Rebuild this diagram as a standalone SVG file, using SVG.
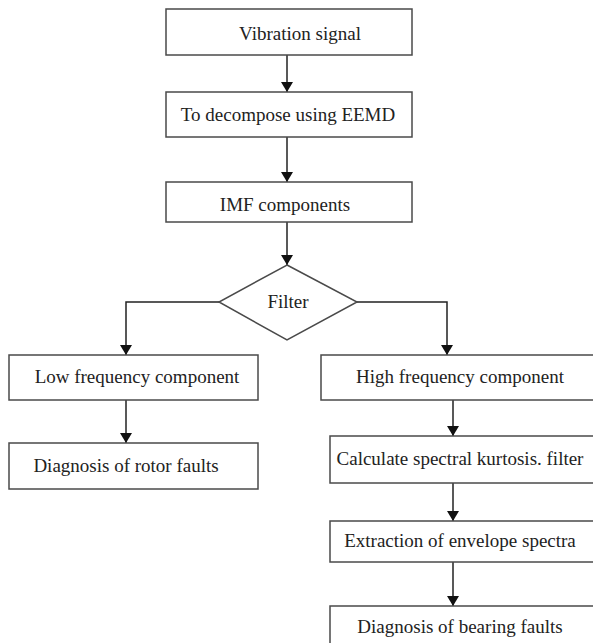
<svg xmlns="http://www.w3.org/2000/svg" width="593" height="643" viewBox="0 0 593 643">
<style>
.box{fill:#fff;stroke:#4a4a4a;stroke-width:1.5}
.lbl{font-family:"Liberation Serif","Times New Roman",serif;font-size:19px;fill:#222;text-anchor:middle}
.edge{fill:none;stroke:#222;stroke-width:1.5;marker-end:url(#arr)}
</style>
<defs>
<marker id="arr" markerWidth="10" markerHeight="12" refX="10" refY="6" orient="auto" markerUnits="userSpaceOnUse">
<path d="M0,0 L10,6 L0,12 Z" fill="#111"/>
</marker>
</defs>
<rect width="593" height="643" fill="#fff"/>
<g id="connectors">
<path class="edge" d="M287,55 V92"/>
<path class="edge" d="M287,137 V182"/>
<path class="edge" d="M287,222 V265"/>
<path class="edge" d="M219,302 H126 V355"/>
<path class="edge" d="M357,302 H447 V355"/>
<path class="edge" d="M126,400 V443"/>
<path class="edge" d="M453,400 V436"/>
<path class="edge" d="M453,483 V521"/>
<path class="edge" d="M453,562 V606"/>
</g>
<g id="n1"><rect class="box" x="166" y="9" width="246" height="46"/><text class="lbl" x="300" y="40">Vibration signal</text></g>
<g id="n2"><rect class="box" x="166" y="92" width="246" height="45"/><text class="lbl" x="288" y="121">To decompose using EEMD</text></g>
<g id="n3"><rect class="box" x="166" y="182" width="246" height="40"/><text class="lbl" x="285" y="211">IMF components</text></g>
<g id="n4"><path class="box" d="M287,265 L357,302 L287,340 L219,302 Z"/><text class="lbl" x="288" y="308">Filter</text></g>
<g id="n5"><rect class="box" x="9" y="355" width="249" height="45"/><text class="lbl" x="137" y="383">Low frequency component</text></g>
<g id="n6"><rect class="box" x="321" y="355" width="280" height="45"/><text class="lbl" x="460" y="383">High frequency component</text></g>
<g id="n7"><rect class="box" x="9" y="443" width="249" height="46"/><text class="lbl" x="126" y="472">Diagnosis of rotor faults</text></g>
<g id="n8"><rect class="box" x="330" y="436" width="271" height="47"/><text class="lbl" x="460" y="465">Calculate spectral kurtosis. filter</text></g>
<g id="n9"><rect class="box" x="330" y="521" width="271" height="41"/><text class="lbl" x="460" y="547">Extraction of envelope spectra</text></g>
<g id="n10"><rect class="box" x="330" y="606" width="271" height="50"/><text class="lbl" x="460" y="633">Diagnosis of bearing faults</text></g>
</svg>
